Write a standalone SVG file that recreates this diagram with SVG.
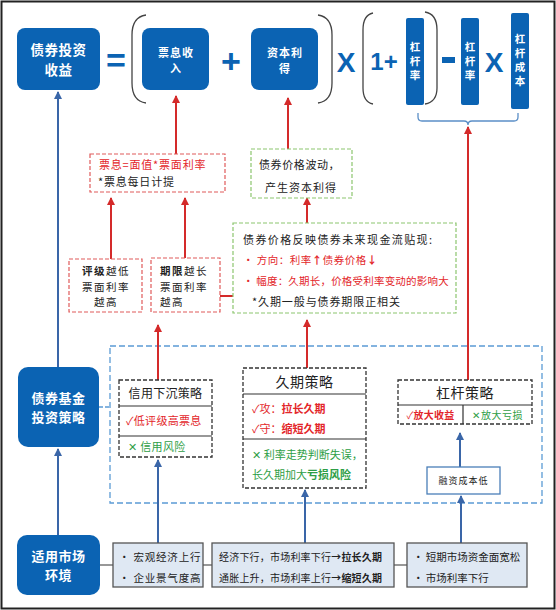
<svg xmlns="http://www.w3.org/2000/svg" width="556" height="610" viewBox="0 0 556 610">
<defs>
<marker id="ar" markerUnits="userSpaceOnUse" markerWidth="8" markerHeight="8" viewBox="0 0 8 8" refX="7" refY="4" orient="auto"><path d="M0,0 L8,4 L0,8 z" fill="#d42a2a"/></marker>
<marker id="ab" markerUnits="userSpaceOnUse" markerWidth="8" markerHeight="8" viewBox="0 0 8 8" refX="7" refY="4" orient="auto"><path d="M0,0 L8,4 L0,8 z" fill="#3a66a8"/></marker>
<style>
text{font-family:"Noto Sans CJK SC","DejaVu Sans",sans-serif;}
.bb{fill:#0b63b3;}
.wt{fill:#fff;font-weight:700;text-anchor:middle;}
.vt{fill:#fff;font-weight:700;font-size:10.5px;letter-spacing:3.5px;writing-mode:vertical-rl;text-anchor:middle;}
.op{fill:#0b63b3;font-family:"Liberation Sans",sans-serif;font-weight:700;text-anchor:middle;}
.t{font-size:11px;fill:#222;letter-spacing:0.8px;}
.r{fill:#e3262a;}
.g{fill:#2e9e46;}
.b{font-weight:700;}
.rd{fill:#fff;stroke:#e05a5a;stroke-width:1.2;stroke-dasharray:4 2;}
.gd{fill:#fff;stroke:#8cc56e;stroke-width:1.2;stroke-dasharray:4 2;}
.kd{fill:#fff;stroke:#333;stroke-width:1.3;stroke-dasharray:4 2;}
.ln{stroke:#333;stroke-width:1.2;}
.mk{fill:#dfe8f3;stroke:#555;stroke-width:1.3;}
.ra{stroke:#d42a2a;stroke-width:2;fill:none;marker-end:url(#ar);}
.ba{stroke:#3a66a8;stroke-width:2;fill:none;marker-end:url(#ab);}
.par{fill:none;stroke:#444;stroke-width:1.3;}
</style>
</defs>
<rect x="1.5" y="1.5" width="553" height="607" fill="#fff" stroke="#222" stroke-width="2"/>

<!-- container -->
<rect x="110" y="346" width="432" height="157" fill="none" stroke="#5b9bd5" stroke-width="1.3" stroke-dasharray="6 3"/>

<g id="connectors">
<path class="ba" d="M58,367 V92"/>
<path class="ba" d="M58,535 V449"/>
<path d="M99,407 H110" stroke="#5b9bd5" stroke-width="1.3" stroke-dasharray="4 2"/>
<path class="ra" d="M176,154 V96"/>
<path class="ra" d="M111,259 V198"/>
<path class="ra" d="M185,258 V198"/>
<path class="ra" d="M158,380 V325"/>
<path class="ra" d="M243,296 H210"/>
<path class="ra" d="M288,149 V98"/>
<path class="ra" d="M307,223 V198"/>
<path class="ra" d="M307,368 V320"/>
<path class="ra" d="M468,380 V127"/>
<path d="M418,113 V117 Q418,121 422,121 H464 Q468,121 468,125 Q468,121 472,121 H514 Q518,121 518,117 V113" fill="none" stroke="#5b8fc7" stroke-width="1.3"/>
<path class="ba" d="M158,543 V460"/>
<path class="ba" d="M305,543 V490"/>
<path class="ba" d="M461,543 V496"/>
<path class="ba" d="M460,467 V433"/>
<path d="M100,565 H113 M203,565 H212 M394,565 H407" stroke="#777" stroke-width="1.3"/>
</g>

<!-- top formula -->
<g id="n-return"><rect class="bb" x="17" y="28" width="83" height="62" rx="8"/>
<text class="wt" style="font-size:13.5px;letter-spacing:0.5px" x="58.5" y="55">债券投资</text><text class="wt" style="font-size:13.5px;letter-spacing:0.5px" x="58.5" y="75">收益</text></g>
<g id="op-eq"><text class="op" x="116" y="72" style="font-size:34px">=</text></g>
<g id="paren1"><path class="par" d="M146,15 Q132,17 132,35 V83 Q132,101 146,103"/><path class="par" d="M318,15 Q332,17 332,35 V83 Q332,101 318,103"/></g>
<g id="n-coupon"><rect class="bb" x="142" y="28" width="67" height="62" rx="8"/>
<text class="wt" style="font-size:11px;letter-spacing:1px" x="176" y="57">票息收</text><text class="wt" style="font-size:11px" x="175.5" y="73">入</text></g>
<g id="op-plus"><text class="op" x="231" y="73" style="font-size:34px">+</text></g>
<g id="n-capital"><rect class="bb" x="251" y="28" width="67" height="62" rx="8"/>
<text class="wt" style="font-size:11px;letter-spacing:1px" x="285" y="57">资本利</text><text class="wt" style="font-size:11px" x="284.5" y="73">得</text></g>
<g id="op-x1"><text class="op" x="346" y="72" style="font-size:28px">X</text></g>
<g id="paren2"><path class="par" d="M373,13 Q363,15 363,30 V88 Q363,102 373,104"/><path class="par" d="M425,12 Q437,14 437,30 V88 Q437,102 425,104"/></g>
<g id="op-one"><text class="op" x="384" y="70" style="font-size:24px">1+</text></g>
<g id="n-lev1"><rect class="bb" x="406" y="18" width="18" height="87" rx="2"/>
<text class="vt" x="415" y="63">杠杆率</text></g>
<g id="op-minus"><rect class="bb" x="442" y="57" width="13" height="6"/></g>
<g id="n-lev2"><rect class="bb" x="461" y="18" width="18" height="87" rx="2"/>
<text class="vt" x="470" y="63">杠杆率</text></g>
<g id="op-x2"><text class="op" x="494" y="72" style="font-size:28px">X</text></g>
<g id="n-levcost"><rect class="bb" x="511" y="13" width="18" height="96" rx="2"/>
<text class="vt" x="520" y="62">杠杆成本</text></g>

<!-- middle boxes -->
<g id="n-couponformula"><rect class="rd" x="90" y="154" width="135" height="38"/>
<text class="t r" x="99" y="169">票息=面值*票面利率</text><text class="t" x="98" y="186">*票息每日计提</text></g>
<g id="n-pricechange"><rect class="gd" x="251" y="149" width="101" height="49"/>
<text class="t" style="letter-spacing:0.6px" x="259" y="169">债券价格波动，</text><text class="t" style="letter-spacing:1px" x="265" y="192">产生资本利得</text></g>
<g id="n-rating"><rect class="rd" x="69" y="259" width="73" height="53"/>
<text class="t" style="font-size:10.5px;letter-spacing:1.5px" x="106" y="275" text-anchor="middle"><tspan class="b">评级</tspan>越低</text>
<text class="t" style="font-size:10.5px;letter-spacing:1.5px" x="106" y="290.5" text-anchor="middle">票面利率</text>
<text class="t" style="font-size:10.5px;letter-spacing:1.5px" x="106" y="306" text-anchor="middle">越高</text></g>
<g id="n-term"><rect class="rd" x="151" y="258" width="69" height="54"/>
<text class="t" style="font-size:10.5px;letter-spacing:1.5px" x="160" y="275"><tspan class="b">期限</tspan>越长</text>
<text class="t" style="font-size:10.5px;letter-spacing:1.5px" x="160" y="290.5">票面利率</text>
<text class="t" style="font-size:10.5px;letter-spacing:1.5px" x="160" y="306">越高</text></g>
<g id="n-pricing"><rect class="gd" x="233" y="223" width="223" height="90"/>
<text class="t" style="letter-spacing:1.4px" x="243" y="244">债券价格反映债券未来现金流贴现:</text>
<text class="t r" style="font-size:10.5px;letter-spacing:0.5px" x="243" y="264">• 方向：利率<tspan class="b">↑</tspan>债券价格<tspan class="b">↓</tspan></text>
<text class="t r" style="font-size:10.5px;letter-spacing:0.2px" x="243" y="285">• 幅度：久期长，价格受利率变动的影响大</text>
<text class="t" style="letter-spacing:0.9px" x="252" y="306">*久期一般与债券期限正相关</text></g>

<!-- strategy -->
<g id="n-strategy"><rect class="bb" x="18" y="367" width="81" height="80" rx="10"/>
<text class="wt" style="font-size:13px;letter-spacing:0.5px" x="58.5" y="403">债券基金</text><text class="wt" style="font-size:13px;letter-spacing:0.5px" x="58.5" y="422">投资策略</text></g>
<g id="n-credit"><rect class="kd" x="119" y="380" width="93" height="77"/>
<path class="ln" d="M119,406 H212 M119,436 H212"/>
<text class="t" style="font-size:12px;letter-spacing:0.3px" x="165.5" y="398" text-anchor="middle">信用下沉策略</text>
<text class="t r" style="letter-spacing:0.3px" x="126" y="425">✓低评级高票息</text>
<text class="t g" style="letter-spacing:0.3px" x="128" y="451">✕ 信用风险</text></g>
<g id="n-duration"><rect class="kd" x="243" y="368" width="123" height="120"/>
<path class="ln" d="M243,394 H366 M243,439 H366"/>
<text class="t" style="font-size:14px;letter-spacing:0.5px" x="304.5" y="387" text-anchor="middle">久期策略</text>
<text class="t r" style="letter-spacing:0" x="252" y="413">✓攻：<tspan class="b">拉长久期</tspan></text>
<text class="t r" style="letter-spacing:0" x="252" y="433">✓守：<tspan class="b">缩短久期</tspan></text>
<text class="t g" style="letter-spacing:0" x="252" y="459">✕ 利率走势判断失误，</text>
<text class="t g" style="letter-spacing:0" x="252" y="479">长久期加大<tspan class="b">亏损风险</tspan></text></g>
<g id="n-leverage"><rect class="kd" x="398" y="380" width="134" height="44"/>
<path class="ln" d="M398,405 H532 M463,405 V424"/>
<text class="t" style="font-size:14px;letter-spacing:0.5px" x="465" y="398" text-anchor="middle">杠杆策略</text>
<text class="t r" style="font-size:10px;letter-spacing:0.2px" x="430.5" y="419" text-anchor="middle">✓<tspan class="b">放大收益</tspan></text>
<text class="t g" style="font-size:10px;letter-spacing:0.5px" x="497.5" y="419" text-anchor="middle">✕放大亏损</text></g>
<g id="n-lowcost"><rect x="427" y="467" width="73" height="27" fill="#fff" stroke="#4a7fb8" stroke-width="1.3"/>
<text class="t" style="font-size:9px;letter-spacing:1px" x="463.5" y="484" text-anchor="middle">融资成本低</text></g>

<!-- market -->
<g id="n-market"><rect class="bb" x="17" y="535" width="83" height="60" rx="10"/>
<text class="wt" style="font-size:13px;letter-spacing:0.5px" x="58.5" y="561">适用市场</text><text class="wt" style="font-size:13px;letter-spacing:0.5px" x="58.5" y="580">环境</text></g>
<g id="n-m1"><rect class="mk" x="113" y="543" width="90" height="44"/>
<text class="t" style="font-size:10.5px;letter-spacing:0.8px" x="119" y="561">• 宏观经济上行</text>
<text class="t" style="font-size:10.5px;letter-spacing:0.8px" x="119" y="582">• 企业景气度高</text></g>
<g id="n-m2"><rect class="mk" x="212" y="543" width="182" height="44"/>
<text class="t" style="font-size:10px;letter-spacing:0.2px" x="219" y="561">经济下行，市场利率下行<tspan class="b">→拉长久期</tspan></text>
<text class="t" style="font-size:10px;letter-spacing:0.2px" x="219" y="582">通胀上升，市场利率上行<tspan class="b">→缩短久期</tspan></text></g>
<g id="n-m3"><rect class="mk" x="407" y="543" width="120" height="44"/>
<text class="t" style="font-size:10.5px;letter-spacing:0" x="413" y="561">• 短期市场资金面宽松</text>
<text class="t" style="font-size:10.5px;letter-spacing:0" x="413" y="582">• 市场利率下行</text></g>
</svg>
